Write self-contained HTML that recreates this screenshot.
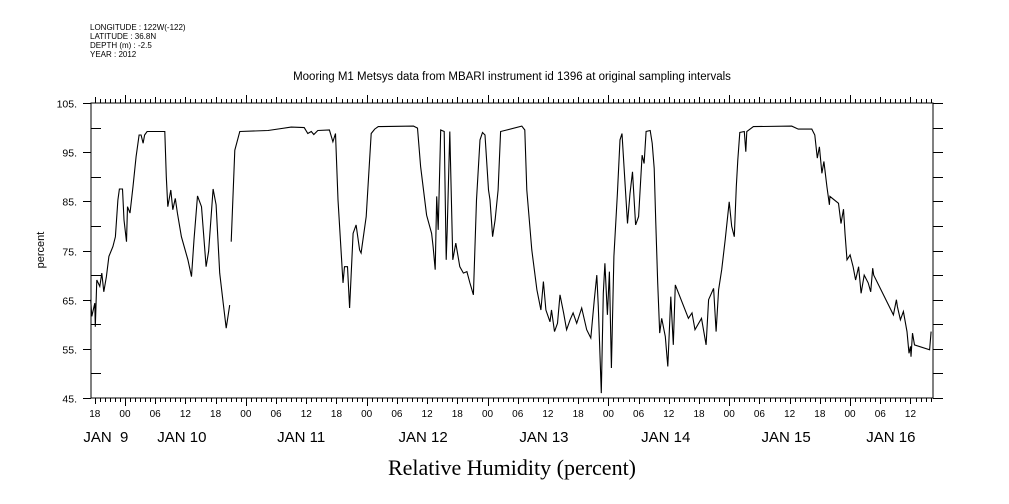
<!DOCTYPE html>
<html><head><meta charset="utf-8"><style>
body{margin:0;background:#fff;}
svg{display:block;font-family:"Liberation Sans",sans-serif;}
</style></head><body>
<svg id="chart" width="1009" height="504" viewBox="0 0 1009 504">
<g font-size="8" fill="#000">
<text x="90" y="30">LONGITUDE : 122W(-122)</text>
<text x="90" y="39">LATITUDE : 36.8N</text>
<text x="90" y="48">DEPTH (m) : -2.5</text>
<text x="90" y="57">YEAR : 2012</text>
</g>
<text x="512" y="80" text-anchor="middle" font-size="11.5">Mooring M1 Metsys data from MBARI instrument id 1396 at original sampling intervals</text>
<text x="512" y="475" text-anchor="middle" font-size="22" font-family="Liberation Serif,serif">Relative Humidity (percent)</text>
<text transform="translate(44,250) rotate(-90)" text-anchor="middle" font-size="11">percent</text>
<rect x="91" y="103" width="842" height="295" fill="none" stroke="#000" stroke-width="1"/>
<g id="axes"></g>
<path id="line" fill="none" stroke="#000" stroke-width="1.1"/>
</svg>
<script>
const yTickValues=[45,55,65,75,85,95,105];
const hourLabels=["18","00","06","12","18","00","06","12","18","00","06","12","18","00","06","12","18","00","06","12","18","00","06","12","18","00","06","12"];
const dayLabels=["JAN  9","JAN 10","JAN 11","JAN 12","JAN 13","JAN 14","JAN 15","JAN 16"];
const dayLabelHours=[-3.8,11.3,35,59.2,83.2,107.4,131.3,152.1];
const seg1Hours=[-6.8,-6.6,-6.0,-5.9,-5.6,-5.0,-4.6,-4.2,-3.7,-3.2,-2.4,-1.9,-1.4,-1.1,-0.5,-0.2,0.3,0.5,1.0,1.6,2.2,2.8,3.2,3.6,3.9,4.4,7.9,8.2,8.5,9.1,9.5,10.0,10.4,11.2,12.5,13.2,13.7,14.4,15.2,16.1,16.6,17.5,18.1,18.8,19.5,20.1,20.8];
const seg1Values=[65.0,61.6,64.3,59.5,69.0,67.7,70.4,66.6,69.7,73.8,75.8,77.8,85.3,87.5,87.5,81.2,76.8,83.9,82.6,88.0,94.1,98.5,98.5,96.8,98.5,99.2,99.2,90.0,83.9,87.3,83.3,85.6,82.6,77.8,73.1,69.7,77.2,86.1,83.9,71.7,74.8,87.5,84.3,70.4,64.3,59.2,63.9];
const seg2Hours=[21.1,21.8,22.8,28.4,33.0,35.6,36.3,37.0,37.5,38.3,40.6,41.3,41.8,42.3,43.3,43.6,44.2,44.6,45.3,45.9,46.6,46.9,47.9,48.9,49.6,50.3,57.3,58.1,58.7,59.9,60.9,61.2,61.6,61.9,62.2,62.7,63.4,63.8,64.0,64.5,65.1,65.7,66.5,67.2,67.9,68.5,69.2,69.8,70.5,71.0,71.5,72.2,72.5,73.0,73.5,74.1,74.6,75.8,78.8,79.4,79.8,80.8,81.8,82.6,83.1,83.6,84.4,84.7,85.3,85.9,86.4,87.1,87.7,88.4,89.0,89.7,90.7,91.7,92.5,93.2,93.7,94.0,94.3,94.6,95.0,95.3,95.8,96.2,96.6,97.1,97.8,98.3,98.7,99.1,99.8,100.3,100.8,101.4,102.0,102.7,103.1,103.5,104.3,104.7,105.1,105.4,105.8,106.2,106.6,107.3,107.8,108.4,108.9,109.3,111.9,112.6,113.2,114.5,115.4,115.9,116.9,117.4,117.9,118.5,119.2,120.0,120.5,121.0,121.4,121.7,122.1,123.0,123.3,123.5,124.8,132.4,133.7,136.4,137.0,137.5,137.9,138.4,138.8,139.4,139.9,140.0,141.7,142.2,142.7,143.0,143.4,144.0,144.6,145.1,145.7,146.2,146.8,147.6,148.1,148.5,148.7,152.6,153.2,153.4,154.0,154.6,155.3,155.7,156.0,156.1,156.4,156.8,159.8,160.1];
const seg2Values=[76.8,95.4,99.2,99.4,100.1,100.0,98.8,99.2,98.6,99.4,99.5,97.1,98.8,85.3,68.4,71.7,71.7,63.3,78.5,80.2,75.1,74.5,81.9,98.8,99.7,100.2,100.3,99.9,92.1,82.2,78.5,75.8,71.1,86.0,79.2,99.5,99.2,73.1,79.2,99.2,73.1,76.5,71.7,70.4,70.7,68.4,66.0,85.3,97.5,99.0,98.5,87.3,85.3,77.8,81.2,87.3,99.2,99.5,100.3,99.5,87.3,75.1,67.0,62.9,68.7,62.9,60.5,62.9,58.5,60.2,66.0,62.3,58.9,60.9,62.3,60.2,63.3,58.9,57.2,65.0,70.0,63.6,54.8,46.0,66.3,72.4,61.9,70.7,51.1,73.8,86.6,97.5,98.8,92.1,80.5,86.6,91.0,80.2,81.9,94.4,92.7,99.2,99.4,96.8,91.7,81.2,68.4,58.2,61.2,57.5,51.4,65.6,55.8,68.0,61.2,62.3,58.9,61.2,55.8,65.0,67.3,58.5,67.0,71.1,77.2,84.9,79.9,77.8,88.0,93.4,99.0,99.2,95.1,99.2,100.2,100.3,99.7,99.7,98.5,93.8,96.1,90.7,93.1,88.0,84.3,86.0,84.6,80.5,83.4,78.5,73.1,74.1,71.7,69.0,71.7,66.3,70.0,68.4,66.6,71.4,70.0,61.9,65.0,63.6,60.9,62.6,58.5,54.1,55.5,53.4,58.2,55.8,54.8,58.5];

const X0=-6.75,X1=160.47,PX0=91,PX1=933,PY0=398,PY1=103;
const xs=h=>PX0+(h-X0)*(PX1-PX0)/(X1-X0);
const ys=v=>PY0-(v-45)*(PY0-PY1)/60;
const NS="http://www.w3.org/2000/svg";
const axes=document.getElementById('axes');
function ln(x1,y1,x2,y2){const l=document.createElementNS(NS,'line');l.setAttribute('x1',x1);l.setAttribute('y1',y1);l.setAttribute('x2',x2);l.setAttribute('y2',y2);l.setAttribute('stroke','#000');l.setAttribute('stroke-width','1');axes.appendChild(l);return l;}
function tx(x,y,s,size,anchor){const t=document.createElementNS(NS,'text');t.setAttribute('x',x);t.setAttribute('y',y);t.setAttribute('font-size',size);t.setAttribute('text-anchor',anchor);t.textContent=s;axes.appendChild(t);return t;}
for(let h=-6;h<=160;h++){
  const x=Math.round(xs(h))+0.5;
  let len=h%24===0?8:(h%6===0?6:4);
  const b=ln(x,PY0,x,PY0+len);
  
  
  const t=ln(x,PY1,x,PY1-len);
  
  
}
hourLabels.forEach((s,i)=>{const h=-6+i*6;if(h>X1)return;const t=tx(xs(h),417,s,10,'middle');

});
dayLabels.forEach((s,i)=>{const t=tx(xs(dayLabelHours[i]),442,s,15,'middle');t.style.whiteSpace='pre';

});
yTickValues.forEach(v=>{const y=Math.round(ys(v))+0.5;
  const a=ln(PX0-8,y,PX0,y);
  
  
  const t=tx(PX0-14,y+4,v+'.',10.5,'end');
  
  
});
for(let v=45;v<=105;v+=5){const y=Math.round(ys(v))+0.5;
  if(v%10===0){const m=ln(PX0,y,PX0+10,y);
    
    }
  const r=ln(PX1,y,PX1+10,y);
  
  
}
function seg(H,V){return H.map((h,i)=>(i?'L':'M')+xs(h).toFixed(1)+','+ys(V[i]).toFixed(1)).join('');}
document.getElementById('line').setAttribute('d',seg(seg1Hours,seg1Values)+seg(seg2Hours,seg2Values));
</script>
</body></html>
